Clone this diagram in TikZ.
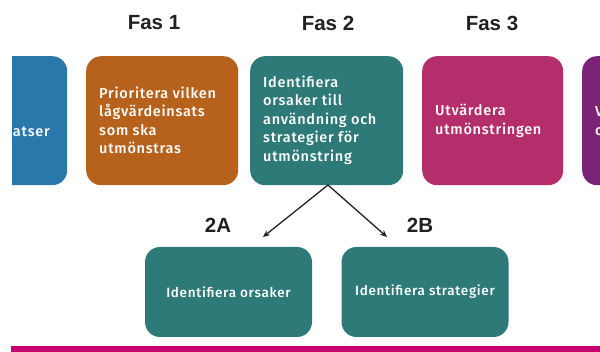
\documentclass[tikz,border=0pt]{standalone}
\usepackage{fontspec}
\setmainfont{Fira Sans Medium}[LetterSpace=5]
\newfontfamily\titlefont{Liberation Sans}
\usetikzlibrary{arrows.meta}
\definecolor{cblue}{HTML}{2A78AB}
\definecolor{corange}{HTML}{B6621C}
\definecolor{cteal}{HTML}{2D7A78}
\definecolor{cmag}{HTML}{B52E6C}
\definecolor{cpurp}{HTML}{7B2477}
\definecolor{cbar}{HTML}{C5006F}
\definecolor{carrow}{HTML}{222222}
\tikzset{
  phase/.style={rounded corners=15pt, minimum height=129pt, inner sep=0pt, anchor=north west},
  boxtext/.style={text=white, font=\fontsize{14.5}{18.5}\selectfont, align=left, anchor=west, inner sep=0pt},
  title/.style={font=\titlefont\bfseries\fontsize{20.5}{24}\selectfont, text=black!87},
  sub/.style={rounded corners=15pt, fill=cteal, minimum width=167pt, minimum height=90pt, inner sep=0pt, text=white, font=\fontsize{13.5}{16}\selectfont},
  conn/.style={draw=carrow, line width=1.3pt, -{Stealth[length=7pt,width=6pt]}}
}
\begin{document}
\begin{tikzpicture}[x=1pt,y=-1pt]
\useasboundingbox (0,0) rectangle (600,352);
\fill[white] (0,0) rectangle (600,352);
\begin{scope}
\clip (12,0) rectangle (600,352);
\node[phase, fill=cblue, minimum width=95pt] (p0) at (-28,56) {};
\node[boxtext, anchor=east] (t0) at (50,131) {insatser};
\node[phase, fill=cpurp, minimum width=100pt] (p4) at (582,56) {};
\node[boxtext] (t4) at (595,121) {V\\c};
\end{scope}
\node[phase, fill=corange, minimum width=152pt] (p1) at (86,56) {};
\node[phase, fill=cteal, minimum width=153pt] (p2) at (250,56) {};
\node[phase, fill=cmag, minimum width=141pt] (p3) at (422,56) {};
\node[boxtext] (t1) at (99,120.5) {Prioritera vilken\\lågvärdeinsats\\som ska\\utmönstras};
\node[boxtext] (t2) at (263,120) {Identifiera\\orsaker till\\användning och\\strategier för\\utmönstring};
\node[boxtext] (t3) at (435,121) {Utvärdera\\utmönstringen};
\node[title] (f1) at (154,23) {Fas 1};
\node[title] (f2) at (328,23) {Fas 2};
\node[title] (f3) at (492,23) {Fas 3};
\node[sub] (a) at (228.5,292) {Identifiera orsaker};
\node[sub] (b) at (425,292) {Identifiera strategier};
\node[title] (la) at (218,225) {2A};
\node[title] (lb) at (420,225) {2B};
\coordinate (apex) at (328,185);
\coordinate (ea) at (263,237);
\coordinate (eb) at (387,237);
\draw[conn] (apex) -- (ea);
\draw[conn] (apex) -- (eb);
\fill[cbar] (11,346) rectangle (600,352);
\end{tikzpicture}
\end{document}
